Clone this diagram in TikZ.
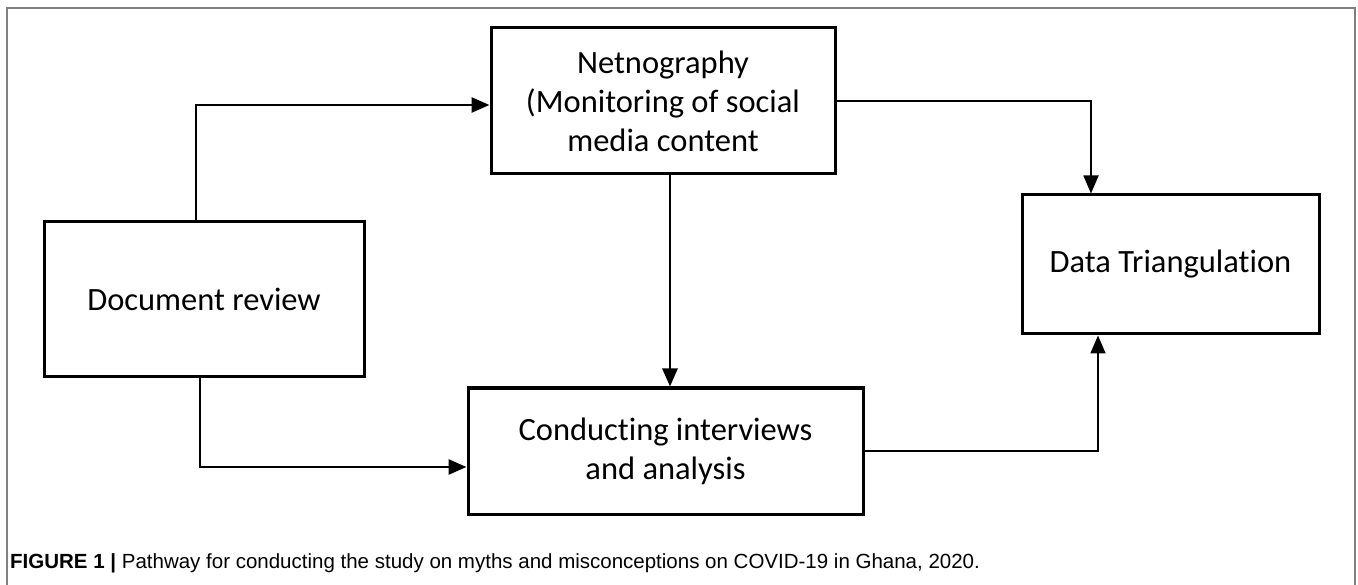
\documentclass[tikz,border=0pt]{standalone}
\usepackage{fontspec}
\setmainfont{Carlito}[Ligatures=NoCommon]
\newfontfamily\capfont{Liberation Sans}
\usetikzlibrary{arrows.meta}
\begin{document}
\begin{tikzpicture}[x=1pt,y=-1pt,
  boxnode/.style={draw=black, line width=3pt, rectangle, inner sep=0pt, align=center,
    font=\fontsize{32.5}{39}\selectfont},
  conn/.style={line width=2.8pt, -{Triangle[length=18pt,width=15pt]}},
  thinconn/.style={line width=1.8pt, -{Triangle[length=18pt,width=15pt]}},
  frame/.style={draw=black!50, line width=2pt},
  capnode/.style={anchor=base west, inner sep=0pt, font=\capfont\fontsize{20.5}{23}\selectfont}
]
\useasboundingbox (0,0) rectangle (1358,585);
\fill[white] (0,0) rectangle (1358,585);
\draw[frame] (7,600) -- (7,8) -- (1355,8) -- (1355,600);

\node[boxnode, minimum width=344pt, minimum height=146pt] (net) at (663,101)
  {Netnography\\(Monitoring of social\\media content};
\node[boxnode, minimum width=320pt, minimum height=155pt] (doc) at (204,299.5)
  {Document review};
\node[boxnode, minimum width=395pt, minimum height=126pt] (con) at (665.5,451)
  {Conducting interviews\\and analysis};
\node[boxnode, minimum width=297pt, minimum height=139pt] (tri) at (1170.5,264.5)
  {Data Triangulation};

\draw[conn] ([xshift=-8pt]doc.north) |- ([yshift=-4pt]net.west);
\draw[conn] ([xshift=-4pt]doc.south) |- ([yshift=-16pt]con.west);
\draw[conn] ([xshift=7pt]net.south) -- ([xshift=7pt]net.south |- con.north);
\draw[thinconn] (net.east) -| ([xshift=-79.5pt]tri.north);
\draw[thinconn] (con.east) -| ([xshift=-72.5pt]tri.south);

\node[capnode] (cap) at (10,568)
  {\textbf{FIGURE 1 |} Pathway for conducting the study on myths and misconceptions on COVID-19 in Ghana, 2020.};
\end{tikzpicture}
\end{document}
